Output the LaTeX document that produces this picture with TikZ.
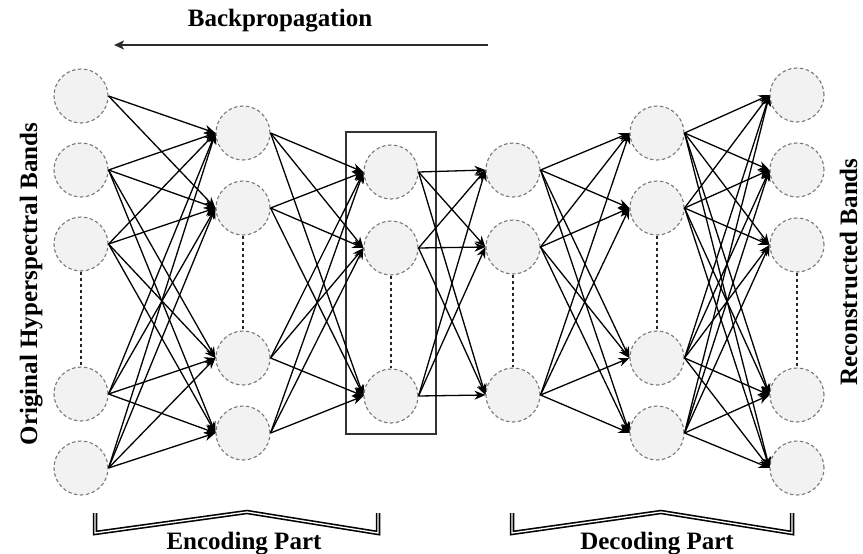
\documentclass[tikz,border=0pt]{standalone}
\usepackage{fontspec}
\setmainfont{Liberation Serif}
\usepackage{tikz}
\usetikzlibrary{arrows.meta}
\definecolor{neuronfill}{RGB}{242,242,242}
\definecolor{neurongray}{RGB}{120,120,120}
\definecolor{arrowdark}{RGB}{45,45,45}

\begin{document}
\begin{tikzpicture}[
  x=1pt, y=-1pt,
  neuron/.style={
    circle, minimum size=54pt, inner sep=0pt,
    fill=neuronfill, draw=neurongray, line width=1.1pt,
    dash pattern=on 3.5pt off 2.5pt
  },
  conn/.style={-{Stealth[length=11pt, width=9pt]}, line width=1.3pt, black},
  gapline/.style={dash pattern=on 3.5pt off 2.5pt, line width=1.3pt, black!85},
  bracepath/.style={double=white, line width=1.6pt, double distance=1.3pt, black},
  title/.style={font=\fontsize{25}{28}\selectfont\bfseries}
]
  \useasboundingbox (0,0) rectangle (863,554);

  % Layers of neurons
  \foreach \y [count=\i] in {96,170,244,394,468}
    \node[neuron] (orig\i) at (81,\y) {};
  \foreach \y [count=\i] in {133,208,358,433}
    \node[neuron] (enca\i) at (243,\y) {};
  \foreach \y [count=\i] in {172,248,396}
    \node[neuron] (code\i) at (391,\y) {};
  \foreach \y [count=\i] in {170,247,395}
    \node[neuron] (deca\i) at (513,\y) {};
  \foreach \y [count=\i] in {133,208,358,433}
    \node[neuron] (decb\i) at (657,\y) {};
  \foreach \y [count=\i] in {95,170,245,395,468}
    \node[neuron] (recon\i) at (797,\y) {};

  % Dashed gaps inside layers
  \draw[gapline] (orig3.south) -- (orig4.north);
  \draw[gapline] (enca2.south) -- (enca3.north);
  \draw[gapline] (code2.south) -- (code3.north);
  \draw[gapline] (deca2.south) -- (deca3.north);
  \draw[gapline] (decb2.south) -- (decb3.north);
  \draw[gapline] (recon3.south) -- (recon4.north);

  % Bottleneck frame
  \draw[line width=1.2pt, black!80] (346,132) rectangle (436,434);

  % Connections
  \draw[conn] (orig1.east) -- (enca1.west);
  \draw[conn] (orig1.east) -- (enca2.west);
  \foreach \s in {2,...,5}
    \foreach \t in {1,...,4}
      \draw[conn] (orig\s.east) -- (enca\t.west);
  \foreach \s in {1,...,4}
    \foreach \t in {1,...,3}
      \draw[conn] (enca\s.east) -- (code\t.west);
  \foreach \s in {1,...,3}
    \foreach \t in {1,...,3}
      \draw[conn] (code\s.east) -- (deca\t.west);
  \foreach \s in {1,...,3}
    \foreach \t in {1,...,4}
      \draw[conn] (deca\s.east) -- (decb\t.west);
  \foreach \s in {1,...,4}
    \foreach \t in {1,...,5}
      \draw[conn] (decb\s.east) -- (recon\t.west);

  % Backpropagation arrow
  \node[title, anchor=base] (bplabel) at (280,26) {Backpropagation};
  \coordinate (bpstart) at (488,45);
  \coordinate (bpend) at (114,45);
  \draw[-{Stealth[length=10pt, width=9pt, inset=2.5pt]}, line width=1.9pt, arrowdark] (bpstart) -- (bpend);

  % Side labels
  \node[title, rotate=90, anchor=base] (inlabel) at (37,284) {Original Hyperspectral Bands};
  \node[title, rotate=90, anchor=base] (outlabel) at (857,272) {Reconstructed Bands};

  % Encoding and decoding braces
  \draw[bracepath] (95,513) -- (95,533) -- (247,512) -- (378,533) -- (378,513);
  \draw[bracepath] (512,513) -- (512,533) -- (661,512) -- (792,533) -- (792,513);
  \node[title, anchor=base] (enclabel) at (244,549) {Encoding Part};
  \node[title, anchor=base] (declabel) at (657,549) {Decoding Part};
\end{tikzpicture}
\end{document}
